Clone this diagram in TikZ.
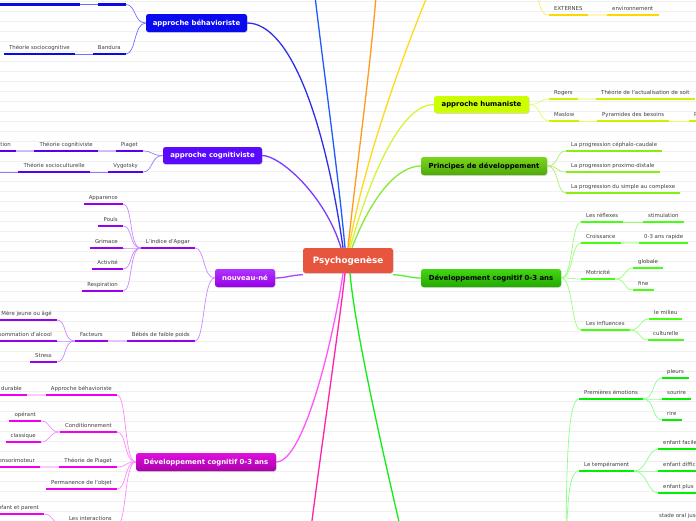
\documentclass[tikz,border=0pt]{standalone}
\usepackage{fontspec}
\setmainfont{DejaVu Sans}
\usetikzlibrary{shadows}
\newcommand\labfont{\fontsize{5.4}{6}\selectfont}
\newcommand\boxfont{\fontsize{6.9}{8}\selectfont\bfseries}
\definecolor{gridc}{HTML}{F0F0F0}
\definecolor{labtext}{HTML}{404040}
\definecolor{cenfill}{HTML}{E8553E}
% blue behaviorist
\definecolor{behbox}{HTML}{0A0AF0}\definecolor{behmain}{HTML}{2F2FE8}\definecolor{behsub}{HTML}{7070FF}\definecolor{behul}{HTML}{0A0AE6}
\definecolor{blueline}{HTML}{1E5BFF}
\definecolor{orangeline}{HTML}{FF9A1A}
\definecolor{yelmain}{HTML}{FFD91A}\definecolor{yelul}{HTML}{FFD700}\definecolor{yelsub}{HTML}{FFE866}
\definecolor{humbox}{HTML}{CCFF00}\definecolor{hummain}{HTML}{D4F53C}\definecolor{humul}{HTML}{C8F500}\definecolor{humsub}{HTML}{DDFF66}
\definecolor{prtop}{HTML}{7AD61C}\definecolor{prbot}{HTML}{4FAA0A}\definecolor{prmain}{HTML}{88E83A}\definecolor{prul}{HTML}{88EE11}\definecolor{prsub}{HTML}{AAF060}
\definecolor{dgtop}{HTML}{44D614}\definecolor{dgbot}{HTML}{22AA00}\definecolor{dgmain}{HTML}{55EE33}\definecolor{dgul}{HTML}{44FF11}\definecolor{dgsub}{HTML}{99FF77}
\definecolor{bgline}{HTML}{11EE11}\definecolor{bgul}{HTML}{00F000}\definecolor{bgsub}{HTML}{88FF88}
\definecolor{pinkline}{HTML}{FF22AA}
\definecolor{dmtop}{HTML}{DD11DD}\definecolor{dmbot}{HTML}{AA00AA}\definecolor{dmmain}{HTML}{FF55FF}\definecolor{dmul}{HTML}{EE00EE}\definecolor{dmsub}{HTML}{FF88FF}
\definecolor{nntop}{HTML}{B233FF}\definecolor{nnbot}{HTML}{9500E6}\definecolor{nnmain}{HTML}{AA44FF}\definecolor{nnul}{HTML}{9A00F0}\definecolor{nnsub}{HTML}{CC88FF}
\definecolor{cogbox}{HTML}{5A0AFF}\definecolor{cogmain}{HTML}{7A3CFF}\definecolor{cogul}{HTML}{5500EE}\definecolor{cogsub}{HTML}{9977FF}
\begin{document}
\begin{tikzpicture}[x=1pt,y=-1pt,
  gridline/.style={draw=gridc, line width=0.6pt},
  box/.style={rounded corners=2.5pt, inner sep=0pt, minimum height=18pt, font=\boxfont,
     drop shadow={shadow xshift=0.5pt, shadow yshift=-0.8pt, opacity=0.3}},
  lab/.style={font=\labfont, text=labtext, inner xsep=5pt, inner ysep=3pt, text height=4pt, text depth=1.2pt,
     append after command={(\tikzlastnode.south west) edge[draw=#1, line width=2.4pt] (\tikzlastnode.south east)}},
  R/.style={anchor=south west}, L/.style={anchor=south east},
  main/.style={line width=1.3pt},
  sub/.style={line width=0.7pt},
  band/.style={line width=1.8pt, opacity=0.45}]
\useasboundingbox (0,0) rectangle (696,520);
\clip (0,0) rectangle (696,520);
\fill[white] (0,0) rectangle (696,520);
\foreach \k in {0,...,51} \draw[gridline] (0,{1.7+10*\k}) -- (696,{1.7+10*\k});

% ---------- boxes ----------
\node[box, fill=cenfill, text=white, minimum width=90pt, minimum height=25pt, font=\fontsize{8.8}{10}\selectfont\bfseries] (cen) at (348,260.5) {Psychogenèse};
\node[box, fill=behbox, text=white, minimum width=101pt] (beh) at (196.5,23) {approche béhavioriste};
\node[box, fill=cogbox, text=white, minimum width=99pt, minimum height=17pt] (cog) at (212.5,155.5) {approche cognitiviste};
\node[box, top color=nntop, bottom color=nnbot, text=white, minimum width=60pt] (nn) at (245,278) {nouveau-né};
\node[box, top color=dmtop, bottom color=dmbot, text=white, minimum width=140pt] (dm) at (206,462) {Développement cognitif 0-3 ans};
\node[box, fill=humbox, text=black, minimum width=95pt, minimum height=17pt] (hum) at (481.5,104.5) {approche humaniste};
\node[box, top color=prtop, bottom color=prbot, text=black, minimum width=126pt] (pr) at (484,166) {Principes de développement};
\node[box, top color=dgtop, bottom color=dgbot, text=black, minimum width=140pt] (dg) at (491,278) {Développement cognitif 0-3 ans};

% off-canvas parents
\coordinate (upblue) at (312,-30);
\coordinate (uporange) at (378,-30);
\coordinate (upyellow) at (434,-20);
\coordinate (yelpar) at (536,-12);
\coordinate (downpink) at (307,560);
\coordinate (downgreen) at (408,560);
\coordinate (emopar) at (566,560);
\coordinate (vygleft) at (-12,172);

% ---------- labels ----------
% behaviorist
\node[lab=behul, L, minimum width=28pt] (b1) at (126,4.5) {};
\node[lab=behul, L, minimum width=80pt] (b1a) at (80,4.5) {};
\node[lab=behul, L] (band) at (126,54) {Bandura};
\node[lab=behul, L] (socog) at (75,54) {Théorie sociocognitive};
% cognitiviste
\node[lab=cogul, L] (piag) at (143,151) {Piaget};
\node[lab=cogul, L] (thcog) at (98,151) {Théorie cognitiviste};
\node[lab=cogul, L] (tion) at (16,151) {tion};
\node[lab=cogul, L] (vyg) at (143,172) {Vygotsky};
\node[lab=cogul, L] (socul) at (90,172) {Théorie socioculturelle};
% nouveau-ne
\node[lab=nnul, L] (apgar) at (195,248) {L'indice d'Apgar};
\node[lab=nnul, L] (appar) at (123,204) {Apparence};
\node[lab=nnul, L] (pouls) at (123,226) {Pouls};
\node[lab=nnul, L] (grim) at (123,248) {Grimace};
\node[lab=nnul, L] (activ) at (123,269) {Activité};
\node[lab=nnul, L] (resp) at (123,291) {Respiration};
\node[lab=nnul, L] (bebes) at (195,341) {Bébés de faible poids};
\node[lab=nnul, L] (fact) at (108,341) {Facteurs};
\node[lab=nnul, L] (mere) at (57,320) {Mère jeune ou âgé};
\node[lab=nnul, L] (alcool) at (57,341) {Consommation d'alcool};
\node[lab=nnul, L] (stress) at (57,362) {Stress};
% dev magenta
\node[lab=dmul, L] (apbeh) at (117,395) {Approche béhavioriste};
\node[lab=dmul, L] (durable) at (27,395) {durable};
\node[lab=dmul, L] (condi) at (117,432) {Conditionnement};
\node[lab=dmul, L] (operant) at (41,421) {opérant};
\node[lab=dmul, L] (classi) at (41,442) {classique};
\node[lab=dmul, L] (thpia) at (117,467) {Théorie de Piaget};
\node[lab=dmul, L] (senso) at (40,467) {sensorimoteur};
\node[lab=dmul, L] (perma) at (117,489) {Permanence de l'objet};
\node[lab=dmul, L] (inter) at (117,525) {Les interactions};
\node[lab=dmul, L] (enfpar) at (44,514) {enfant et parent};
% yellow
\node[lab=yelul, R] (ext) at (549,15) {EXTERNES};
\node[lab=yelul, R] (envir) at (607,15) {environnement};
% humaniste
\node[lab=humul, R] (rogers) at (549,99) {Rogers};
\node[lab=humul, R] (actu) at (596,99) {Théorie de l'actualisation de soit};
\node[lab=humul, R] (maslow) at (549,121) {Maslow};
\node[lab=humul, R] (pyra) at (597,121) {Pyramides des besoins};
\node[lab=humul, R] (pp) at (689,121) {P};
% principes
\node[lab=prul, R] (ceph) at (566,151) {La progression céphalo-caudale};
\node[lab=prul, R] (prox) at (566,172) {La progression proximo-distale};
\node[lab=prul, R] (simp) at (566,193) {La progression du simple au complexe};
% dev green
\node[lab=dgul, R] (refl) at (581,222) {Les réflexes};
\node[lab=dgul, R] (stim) at (643,222) {stimulation};
\node[lab=dgul, R] (crois) at (581,243) {Croissance};
\node[lab=dgul, R] (rapide) at (639,243) {0-3 ans rapide};
\node[lab=dgul, R] (motr) at (581,279) {Motricité};
\node[lab=dgul, R] (glob) at (633,268) {globale};
\node[lab=dgul, R] (fine) at (633,290) {fine};
\node[lab=dgul, R] (infl) at (581,330) {Les influences};
\node[lab=dgul, R] (milieu) at (649,319) {le milieu};
\node[lab=dgul, R] (cult) at (648,340) {culturelle};
% emotions
\node[lab=bgul, R] (emo) at (579,399) {Premières émotions};
\node[lab=bgul, R] (pleurs) at (662,378) {pleurs};
\node[lab=bgul, R] (sourire) at (662,399) {sourire};
\node[lab=bgul, R] (rire) at (662,420) {rire};
\node[lab=bgul, R] (temp) at (579,471) {Le tempérament};
\node[lab=bgul, R] (facile) at (658,449) {enfant facile};
\node[lab=bgul, R] (diffi) at (658,471) {enfant difficile};
\node[lab=bgul, R] (plus) at (658,493) {enfant plus};
\node[lab=bgul, R] (oral) at (654,522) {stade oral jusqu'à 1 an};

% ---------- main connectors ----------
\begin{scope}[on background layer/.style={}]
\draw[main, behmain] ([xshift=-5pt]cen.north) .. controls (325,120) and (290,23) .. (beh.east);
\draw[main, blueline] ([xshift=-3pt]cen.north) .. controls (338,170) and (322,60) .. (upblue);
\draw[main, orangeline] ([xshift=0pt]cen.north) .. controls (356,170) and (372,60) .. (uporange);
\draw[main, yelmain] ([xshift=1pt]cen.north) .. controls (362,170) and (400,60) .. (upyellow);
\draw[main, hummain] ([xshift=2pt]cen.north) .. controls (375,160) and (405,104.5) .. (hum.west);
\draw[main, prmain] ([xshift=4pt]cen.north) .. controls (372,195) and (398,166) .. (pr.west);
\draw[main, cogmain] ([xshift=-7pt]cen.north) .. controls (325,195) and (280,155.5) .. (cog.east);
\draw[main, nnmain] ([yshift=-1.5pt]cen.south west) .. controls (292,275) and (285,278) .. (nn.east);
\draw[main, dgmain] ([yshift=-1.5pt]cen.south east) .. controls (404,275) and (410,278) .. (dg.west);
\draw[main, dmmain] ([xshift=-5pt]cen.south) .. controls (335,330) and (305,462) .. (dm.east);
\draw[main, pinkline] ([xshift=-3pt]cen.south) .. controls (340,320) and (318,470) .. (downpink);
\draw[main, bgline] ([xshift=2pt]cen.south) .. controls (355,330) and (382,450) .. (downgreen);
\end{scope}

% ---------- sub connectors ----------
% behaviorist
\draw[sub, behsub] (beh.west) .. controls +(-12,0) and +(10,0) .. (b1.south east);
\draw[sub, behsub] (beh.west) .. controls +(-12,0) and +(10,0) .. (band.south east);
\draw[sub, behsub] (b1.south west) -- (b1a.south east);
\draw[sub, behsub] (band.south west) -- (socog.south east);
% cognitiviste
\draw[sub, cogsub] (cog.west) .. controls +(-12,0) and +(10,0) .. (piag.south east);
\draw[sub, cogsub] (cog.west) .. controls +(-12,0) and +(10,0) .. (vyg.south east);
\draw[band, cogsub] (piag.south west) -- (thcog.south east);
\draw[band, cogsub] (thcog.south west) -- (tion.south east);
\draw[sub, cogsub] (vyg.south west) -- (socul.south east);
\draw[sub, cogsub] (socul.south west) -- (vygleft);
% nouveau-ne
\draw[sub, nnsub] (nn.west) .. controls +(-12,0) and +(10,0) .. (apgar.south east);
\draw[sub, nnsub] (nn.west) .. controls +(-12,0) and +(10,0) .. (bebes.south east);
\foreach \c in {appar,pouls,grim,activ,resp}
  \draw[sub, nnsub] (apgar.south west) .. controls +(-12,0) and +(10,0) .. (\c.south east);
\draw[band, nnsub] (bebes.south west) -- (fact.south east);
\foreach \c in {mere,alcool,stress}
  \draw[sub, nnsub] (fact.south west) .. controls +(-12,0) and +(10,0) .. (\c.south east);
% dev magenta
\foreach \c in {apbeh,condi,thpia,perma,inter}
  \draw[sub, dmsub] (dm.west) .. controls +(-12,0) and +(10,0) .. (\c.south east);
\draw[band, dmsub] (apbeh.south west) -- (durable.south east);
\foreach \c in {operant,classi}
  \draw[sub, dmsub] (condi.south west) .. controls +(-12,0) and +(10,0) .. (\c.south east);
\draw[band, dmsub] (thpia.south west) -- (senso.south east);
\draw[sub, dmsub] (inter.south west) .. controls +(-12,0) and +(10,0) .. (enfpar.south east);
% yellow
\draw[sub, yelsub] (yelpar) .. controls (540,5) and (540,15) .. (ext.south west);
\draw[band, yelsub] (ext.south east) -- (envir.south west);
% humaniste
\draw[sub, humsub] (hum.east) .. controls +(12,0) and +(-10,0) .. (rogers.south west);
\draw[sub, humsub] (hum.east) .. controls +(12,0) and +(-10,0) .. (maslow.south west);
\draw[band, humsub] (rogers.south east) -- (actu.south west);
\draw[sub, humsub] (maslow.south east) -- (pyra.south west);
\draw[sub, humsub] (pyra.south east) -- (pp.south west);
% principes
\foreach \c in {ceph,prox,simp}
  \draw[sub, prsub] (pr.east) .. controls +(12,0) and +(-10,0) .. (\c.south west);
% dev green
\foreach \c in {refl,crois,motr,infl}
  \draw[sub, dgsub] (dg.east) .. controls +(12,0) and +(-10,0) .. (\c.south west);
\draw[sub, dgsub] (refl.south east) -- (stim.south west);
\draw[band, dgsub] (crois.south east) -- (rapide.south west);
\foreach \c in {glob,fine}
  \draw[sub, dgsub] (motr.south east) .. controls +(12,0) and +(-10,0) .. (\c.south west);
\foreach \c in {milieu,cult}
  \draw[sub, dgsub] (infl.south east) .. controls +(12,0) and +(-10,0) .. (\c.south west);
% emotions
\draw[sub, bgsub] (emopar) .. controls (566,450) and (569,399) .. (emo.south west);
\draw[sub, bgsub] (emopar) .. controls (567,500) and (569,471) .. (temp.south west);
\foreach \c in {pleurs,sourire,rire}
  \draw[sub, bgsub] (emo.south east) .. controls +(12,0) and +(-10,0) .. (\c.south west);
\foreach \c in {facile,diffi,plus}
  \draw[sub, bgsub] (temp.south east) .. controls +(12,0) and +(-10,0) .. (\c.south west);
\end{tikzpicture}
\end{document}
